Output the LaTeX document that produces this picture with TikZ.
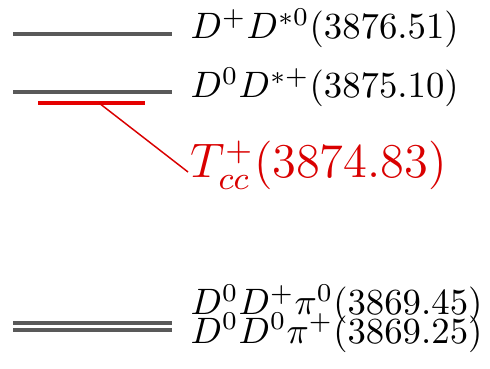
\documentclass[tikz,border=0pt]{standalone}
\usetikzlibrary{calc}
\begin{document}
\begin{tikzpicture}[x=0.272pt,y=-0.272pt,
  level/.style={line width=1.05pt,draw=black!65},
  thinlevel/.style={line width=0.9pt,draw=black!65},
  boundlevel/.style={line width=1.05pt,draw=red!90!black},
  label/.style={inner sep=0pt,anchor=base west,font=\normalsize},
  boundlabel/.style={inner sep=0pt,anchor=base west,font=\large,scale=1.1,transform shape,text=red!85!black},
  link/.style={line width=0.4pt,draw=red!85!black}]
\useasboundingbox (0,0) rectangle (490,369);
% thresholds
\draw[level] (13,34) coordinate (a1) -- (172,34) coordinate (a2);
\draw[level] (13,92) coordinate (b1) -- (172,92) coordinate (b2);
\draw[thinlevel] (13,323) coordinate (c1) -- (172,323) coordinate (c2);
\draw[thinlevel] (13,330) coordinate (d1) -- (172,330) coordinate (d2);
% bound state
\draw[boundlevel] (38,103) coordinate (t1) -- (145,103) coordinate (t2);
\coordinate (tmid) at (99,103);
% labels
\node[label] (la) at (190,39) {$D^+D^{*0}(3876.51)$};
\node[label] (lb) at (190,98) {$D^0D^{*+}(3875.10)$};
\node[label] (lc) at (190,315) {$D^0D^+\pi^0(3869.45)$};
\node[label] (ld) at (190,343) {$D^0D^0\pi^+(3869.25)$};
\node[boundlabel] (tcc) at (190,178) {$T_{cc}^+(3874.83)$};
\draw[link] (tmid) -- ($(tcc.base west)+(-2,-6)$);
\end{tikzpicture}
\end{document}
